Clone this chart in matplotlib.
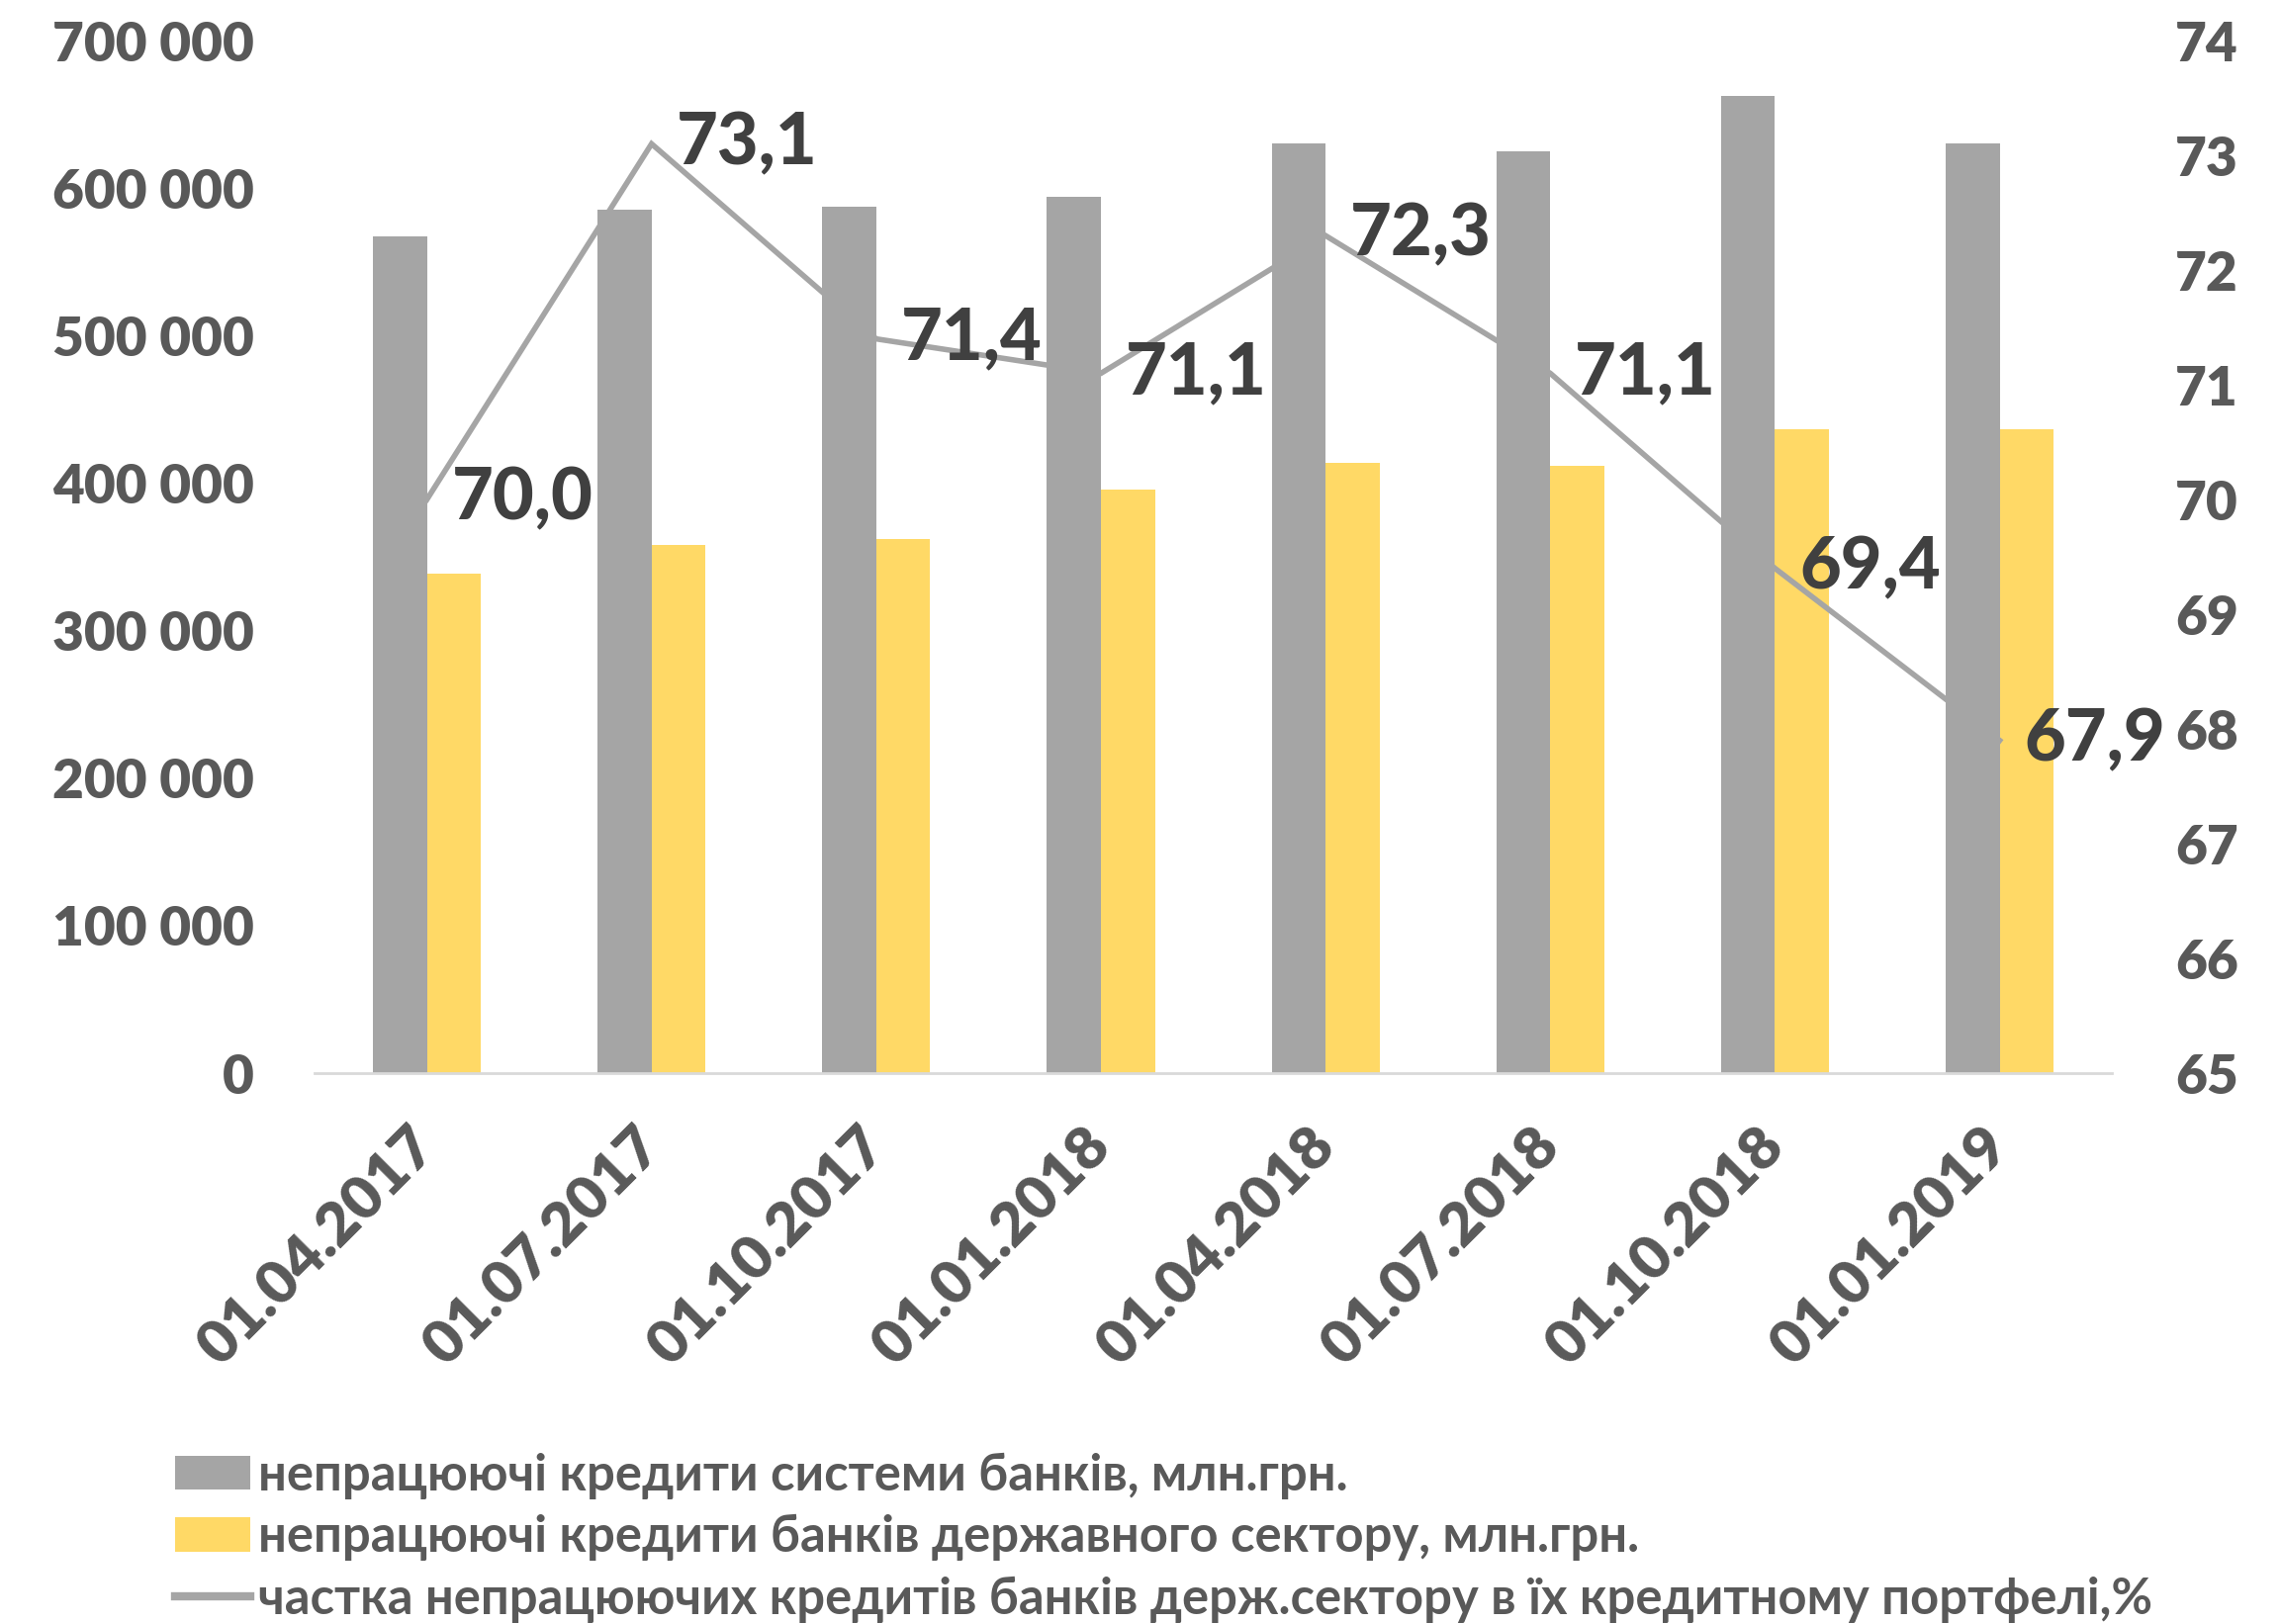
import matplotlib
matplotlib.use("Agg")
import matplotlib.pyplot as plt
import numpy as np
from matplotlib.patches import Patch
from matplotlib.lines import Line2D

dates = ["01.04.2017", "01.07.2017", "01.10.2017", "01.01.2018",
         "01.04.2018", "01.07.2018", "01.10.2018", "01.01.2019"]
npl_system = [567300, 585300, 587100, 594300, 630200, 624900, 662200, 630200]
npl_state = [338700, 358200, 361800, 395500, 413500, 411600, 436600, 436600]
share_state = [70.0, 73.1, 71.4, 71.1, 72.3, 71.1, 69.4, 67.9]

label_system = "непрацюючі кредити системи банків, млн.грн."
label_state = "непрацюючі кредити банків державного сектору, млн.грн."
label_share = "частка непрацюючих кредитів банків держ.сектору в їх кредитному портфелі,%"

left_ticks = [0, 100000, 200000, 300000, 400000, 500000, 600000, 700000]
right_ticks = [65, 66, 67, 68, 69, 70, 71, 72, 73, 74]

GRAY = "#A5A5A5"
YELLOW = "#FFD966"
TICKC = "#595959"
LABC = "#404040"
FONT = ["Lato", "Noto Sans", "DejaVu Sans"]

plt.rcParams["font.family"] = FONT
plt.rcParams["font.weight"] = "bold"

fig = plt.figure(figsize=(23.06, 16.42), dpi=100)
ax = fig.add_axes([0.1379, 0.3392, 0.9259 - 0.1379, 0.975 - 0.3392])
ax2 = ax.twinx()

x = np.arange(len(dates))
w = 0.24
ax.bar(x - w / 2, npl_system, width=w, color=GRAY, zorder=2)
ax.bar(x + w / 2, npl_state, width=w, color=YELLOW, zorder=2)
ax.set_xlim(-0.5, len(dates) - 0.5)
ax.set_ylim(0, 700000)
ax.set_yticks(left_ticks)
ax.set_yticklabels([f"{v:,}".replace(",", " ") for v in left_ticks])

ax2.plot(x, share_state, color=GRAY, lw=4, solid_joinstyle="miter", zorder=3)
ax2.set_ylim(65, 74)
ax2.set_yticks(right_ticks)
for xi, v in zip(x, share_state):
    ax2.annotate(f"{v:.1f}".replace(".", ","), (xi, v), xytext=(18, 0),
                 textcoords="offset points", ha="left", va="center",
                 fontsize=52, fontweight="black", color=LABC, zorder=5)

for a in (ax, ax2):
    for s in a.spines.values():
        s.set_visible(False)
ax.spines["bottom"].set_visible(True)
ax.spines["bottom"].set_color("#D9D9D9")
ax.spines["bottom"].set_linewidth(2)

ax.tick_params(axis="y", length=0, pad=44, labelsize=39.5, labelcolor=TICKC)
ax2.tick_params(axis="y", length=0, pad=46, labelsize=39.5, labelcolor=TICKC)
ax.set_xticks(x)
ax.set_xticklabels(dates, rotation=45, ha="right", va="center",
                   rotation_mode="anchor", fontsize=44, color=TICKC, fontweight="heavy")
ax.tick_params(axis="x", length=0, pad=46)
for t in ax.get_yticklabels() + ax2.get_yticklabels():
    t.set_fontweight("heavy")

handles = [Patch(facecolor=GRAY, edgecolor="none"),
           Patch(facecolor=YELLOW, edgecolor="none"),
           Line2D([0], [0], color=GRAY, lw=6)]
leg = fig.legend(handles, [label_system, label_state, label_share],
                 loc="upper left", bbox_to_anchor=(0.068, 0.118),
                 frameon=False, fontsize=36.5, handlelength=1.5, handleheight=0.68,
                 handletextpad=0.15, labelspacing=0.3, borderaxespad=0)
for t in leg.get_texts():
    t.set_color(TICKC)
    t.set_fontweight("bold")

fig.savefig("out.png", dpi=100)
